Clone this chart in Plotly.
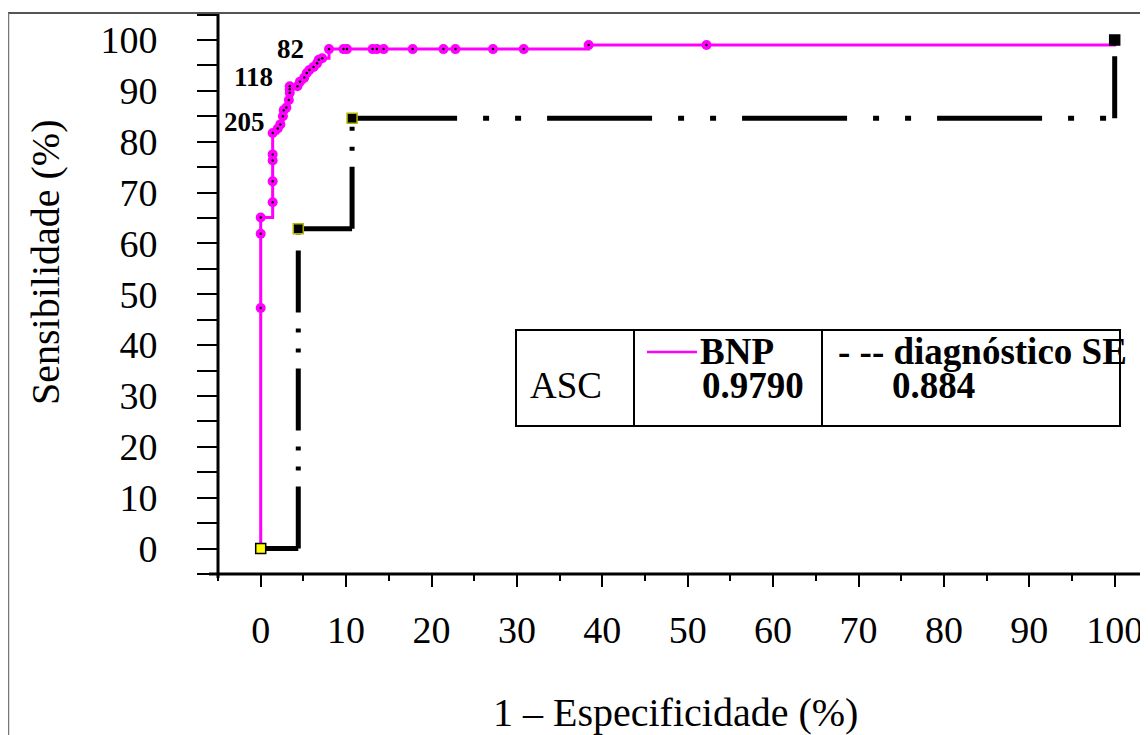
import plotly.graph_objects as go

# ---------------- data ----------------
bnp_x = [0, 0, 0, 0, 1.4, 1.4, 1.4, 1.4, 1.4, 2.0, 2.3, 2.6, 2.7, 3.0, 3.3, 3.4, 3.4, 3.4,
         4.3, 4.6, 5.1, 5.4, 5.7, 6.2, 6.6, 6.8, 7.2, 8.0, 9.7, 10.1, 13.1, 13.6, 14.4,
         17.8, 21.4, 22.8, 27.2, 30.8, 38.4, 52.2, 100]
bnp_y = [0, 47.3, 61.9, 65.1, 68.1, 72.2, 76.3, 77.5, 81.7, 82.6, 83.4, 85.0, 86.2, 86.7,
         88.2, 89.6, 90.3, 90.9, 90.9, 91.8, 92.6, 93.5, 94.1, 94.7, 95.4, 96.1, 96.4,
         98.2, 98.2, 98.2, 98.2, 98.2, 98.2, 98.2, 98.2, 98.2, 98.2, 98.2, 99.0, 99.0, 100]

se_x = [0, 4.4, 10.7, 100]
se_y = [0, 62.9, 84.6, 100]

x_ticks = [0, 10, 20, 30, 40, 50, 60, 70, 80, 90, 100]
y_ticks = [0, 10, 20, 30, 40, 50, 60, 70, 80, 90, 100]

threshold_labels = ["205", "118", "82"]
auc_label = "ASC"
bnp_name, bnp_auc = "BNP", "0.9790"
se_name, se_auc = "- -- diagnóstico SE", "0.884"

x_title = "1 – Especificidade (%)"
y_title = "Sensibilidade (%)"

# ---------------- styles ----------------
FONT = "Liberation Serif, Times New Roman, serif"
MAGENTA = "#FF00FF"
H_DASH = "105px,26px,6px,26px,6px,26px"
V_DASH = "62px,16px,4px,16px,4px,16px"

OFF = 8  # page body margin
W, H = 1148 - OFF, 735 - OFF
L, R, T, B = 218 - OFF, 0, 13 - OFF, 735 - 574
PW, PH = W - L - R, H - T - B


def px(xp):
    return (xp - OFF - L) / PW


def py(yp):
    return (H - B - (yp - OFF)) / PH


fig = go.Figure()

# BNP curve
fig.add_trace(go.Scatter(
    x=bnp_x, y=bnp_y, mode="lines+markers",
    line=dict(color=MAGENTA, width=3, shape="hv"),
    marker=dict(symbol="circle", size=10, color=MAGENTA, line=dict(width=0)),
    hoverinfo="skip", showlegend=False))
fig.add_trace(go.Scatter(
    x=bnp_x[1:-1], y=bnp_y[1:-1], mode="markers",
    marker=dict(symbol="circle", size=2.5, color="black"),
    hoverinfo="skip", showlegend=False))

# diagnostic SE curve drawn as step segments
for i in range(len(se_x) - 1):
    fig.add_trace(go.Scatter(
        x=[se_x[i], se_x[i + 1]], y=[se_y[i], se_y[i]], mode="lines",
        line=dict(color="black", width=5, dash=H_DASH),
        hoverinfo="skip", showlegend=False))
    fig.add_trace(go.Scatter(
        x=[se_x[i + 1], se_x[i + 1]], y=[se_y[i], se_y[i + 1]], mode="lines",
        line=dict(color="black", width=5, dash=V_DASH),
        hoverinfo="skip", showlegend=False))

se_fill = ["#FFFF00", "black", "black", "black"]
se_edge = ["black", "#B5B500", "#B5B500", "black"]
fig.add_trace(go.Scatter(
    x=se_x, y=se_y, mode="markers",
    marker=dict(symbol="square", size=10, color=se_fill, line=dict(color=se_edge, width=1.5)),
    hoverinfo="skip", showlegend=False))

annotations = []
# threshold labels
for lab, (ax_, ay_) in zip(threshold_labels, [(-1.93, 83.9), (-0.88, 92.7), (3.5, 98.3)]):
    annotations.append(dict(x=ax_, y=ay_, xref="x", yref="y", text=f"<b>{lab}</b>",
                            showarrow=False, font=dict(family=FONT, size=27, color="black"),
                            xanchor="center", yanchor="middle"))

# axis titles
annotations.append(dict(x=px(675), y=py(712), xref="paper", yref="paper", text=x_title,
                        showarrow=False, font=dict(family=FONT, size=40, color="black"),
                        xanchor="center", yanchor="middle"))
annotations.append(dict(x=px(45), y=py(262), xref="paper", yref="paper", text=y_title,
                        showarrow=False, textangle=-90, font=dict(family=FONT, size=40, color="black"),
                        xanchor="center", yanchor="middle"))

# legend box texts
annotations.append(dict(x=px(566), y=py(385), xref="paper", yref="paper", text=auc_label,
                        showarrow=False, font=dict(family=FONT, size=37, color="black"),
                        xanchor="center", yanchor="middle"))
annotations.append(dict(x=px(698), y=py(351), xref="paper", yref="paper", text=f"<b>{bnp_name}</b>",
                        showarrow=False, font=dict(family=FONT, size=37, color="black"),
                        xanchor="left", yanchor="middle"))
annotations.append(dict(x=px(700), y=py(385), xref="paper", yref="paper", text=f"<b>{bnp_auc}</b>",
                        showarrow=False, font=dict(family=FONT, size=37, color="black"),
                        xanchor="left", yanchor="middle"))
annotations.append(dict(x=px(836), y=py(351), xref="paper", yref="paper", text=f"<b>{se_name}</b>",
                        showarrow=False, font=dict(family=FONT, size=37, color="black"),
                        xanchor="left", yanchor="middle"))
annotations.append(dict(x=px(890), y=py(385), xref="paper", yref="paper", text=f"<b>{se_auc}</b>",
                        showarrow=False, font=dict(family=FONT, size=37, color="black"),
                        xanchor="left", yanchor="middle"))

shapes = [
    # outer frame
    dict(type="line", xref="paper", yref="paper", x0=px(8), x1=px(1148), y0=py(13), y1=py(13),
         line=dict(color="#555555", width=2)),
    dict(type="line", xref="paper", yref="paper", x0=px(8.5), x1=px(8.5), y0=py(13), y1=py(735),
         line=dict(color="#777777", width=1.5)),
    # axis lines
    dict(type="line", xref="paper", yref="paper", x0=px(218), x1=px(218), y0=py(14), y1=py(578),
         line=dict(color="black", width=3)),
    dict(type="line", xref="paper", yref="paper", x0=px(209), x1=px(1148), y0=py(574), y1=py(574),
         line=dict(color="black", width=3)),
    # legend box
    dict(type="rect", xref="paper", yref="paper", x0=px(516), x1=px(1120), y0=py(330), y1=py(426),
         line=dict(color="black", width=2), fillcolor="rgba(0,0,0,0)"),
    dict(type="line", xref="paper", yref="paper", x0=px(634), x1=px(634), y0=py(330), y1=py(426),
         line=dict(color="black", width=2)),
    dict(type="line", xref="paper", yref="paper", x0=px(822), x1=px(822), y0=py(330), y1=py(426),
         line=dict(color="black", width=2)),
    dict(type="line", xref="paper", yref="paper", x0=px(647), x1=px(697), y0=py(352), y1=py(352),
         line=dict(color=MAGENTA, width=2.5)),
]

fig.update_layout(
    width=W, height=H,
    margin=dict(l=L, r=R, t=T, b=B, pad=0),
    paper_bgcolor="white", plot_bgcolor="white",
    showlegend=False,
    annotations=annotations,
    shapes=shapes,
    xaxis=dict(range=[-5, 103.9], tickmode="array", tickvals=x_ticks,
               ticktext=[str(v) for v in x_ticks],
               ticks="outside", ticklen=12, tickwidth=2, tickcolor="black",
               minor=dict(ticks="outside", dtick=5, tick0=0, ticklen=6, tickwidth=2, tickcolor="black"),
               showgrid=False, zeroline=False, showline=False,
               ticklabelstandoff=10,
               tickfont=dict(family=FONT, size=38, color="black")),
    yaxis=dict(range=[-5, 105.3], tickmode="array", tickvals=y_ticks,
               ticktext=[str(v) for v in y_ticks],
               ticks="outside", ticklen=20, tickwidth=2, tickcolor="black",
               minor=dict(ticks="outside", dtick=5, tick0=0, ticklen=20, tickwidth=2, tickcolor="black"),
               showgrid=False, zeroline=False, showline=False,
               ticklabelstandoff=32,
               tickfont=dict(family=FONT, size=38, color="black")),
)

fig.write_html("out.html")
